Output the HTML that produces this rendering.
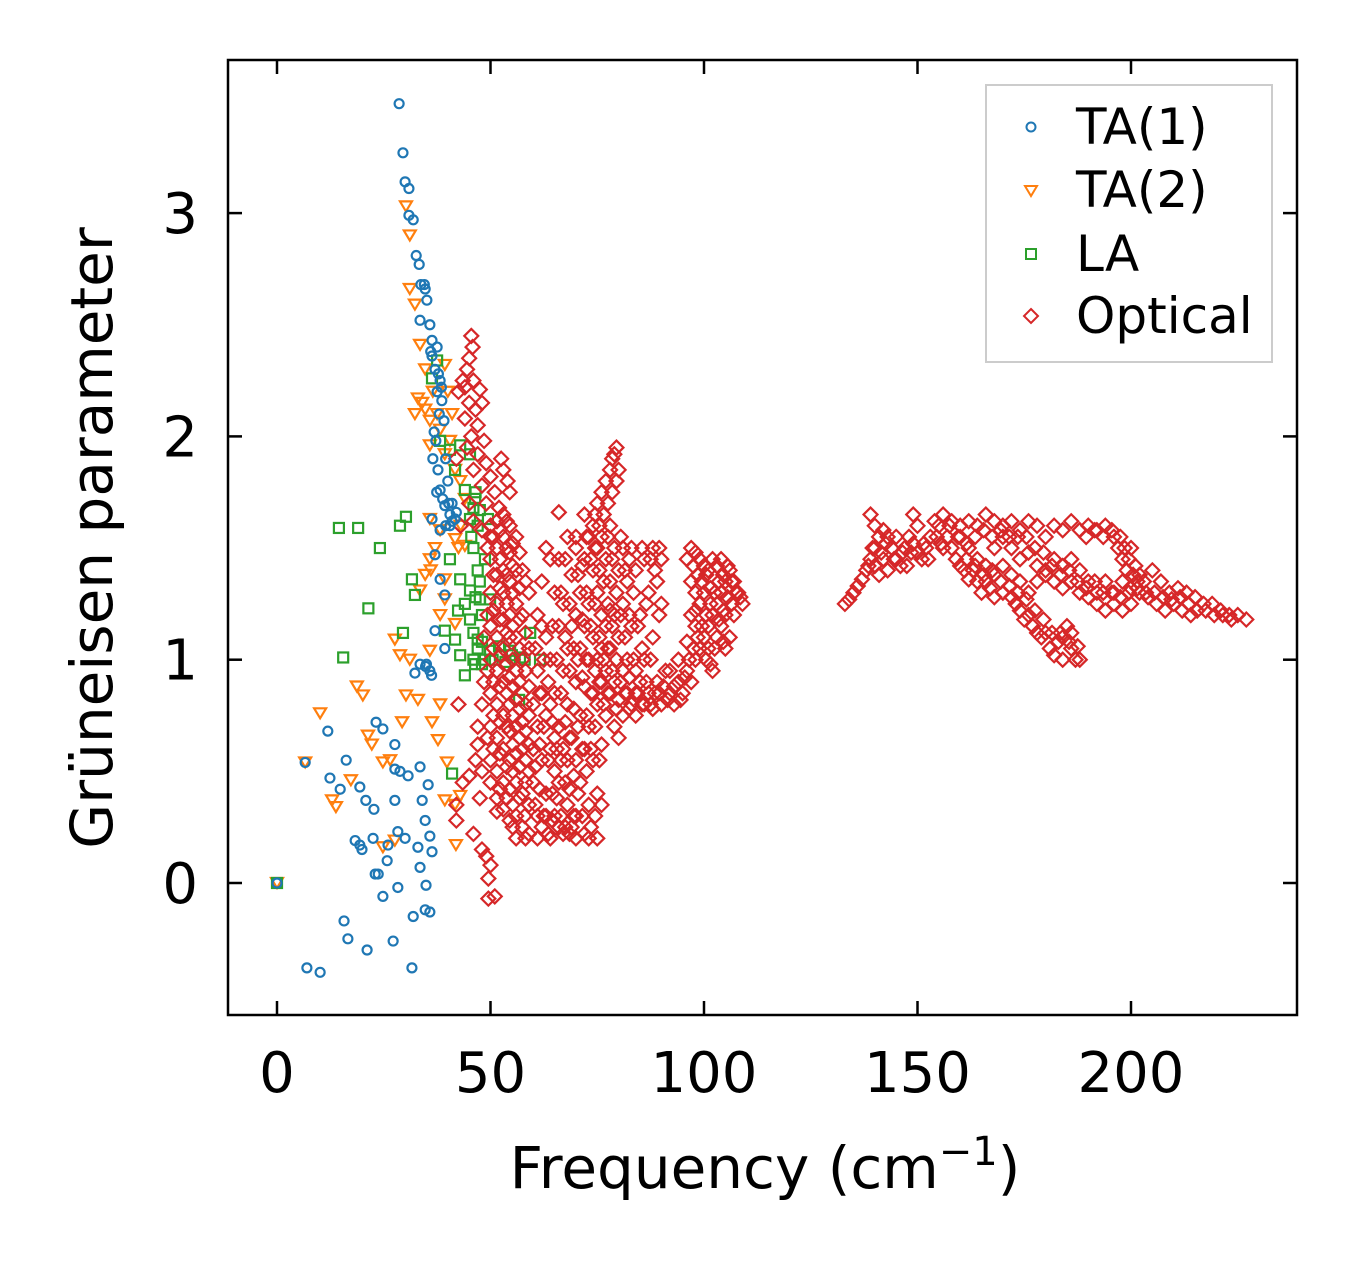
<!DOCTYPE html>
<html><head><meta charset="utf-8"><style>
html,body{margin:0;padding:0;background:#fff;}
svg{display:block;font-family:"DejaVu Sans","Liberation Sans",sans-serif;}
</style></head><body>
<svg id="chart" width="1357" height="1264" viewBox="0 0 1357 1264">
<g id="marks"></g>
<rect x="228" y="60" width="1069" height="955" fill="none" stroke="#000" stroke-width="2.5"/>
<g id="ticks"></g>
<text x="765" y="1188" font-size="58" text-anchor="middle">Frequency (cm<tspan dy="-23" font-size="40">−1</tspan><tspan dy="23">)</tspan></text>
<text transform="translate(112,538) rotate(-90)" font-size="58" text-anchor="middle">Grüneisen parameter</text>
<g>
<rect x="986" y="85" width="286" height="277" fill="#fff" fill-opacity="0.8" stroke="#ccc" stroke-width="2"/>
<circle cx="1031" cy="127" r="4.5" fill="none" stroke="#1f77b4" stroke-width="2"/>
<text x="1076" y="144" font-size="50">TA(1)</text>
<path d="M1025,186 L1037,186 L1031,196 Z" fill="none" stroke="#ff7f0e" stroke-width="2"/>
<text x="1076" y="207" font-size="50">TA(2)</text>
<rect x="1026" y="249" width="10" height="10" fill="none" stroke="#2ca02c" stroke-width="2"/>
<text x="1076" y="271" font-size="50">LA</text>
<path d="M1031,309 L1038,316 L1031,323 L1024,316 Z" fill="none" stroke="#d62728" stroke-width="2"/>
<text x="1076" y="333" font-size="50">Optical</text>
</g>
</svg>
<script>
const xTicks=[0,50,100,150,200];
const yTicks=[0,1,2,3];
const ta1=[[28.6,3.49],[29.5,3.27],[30,3.14],[30.9,3.11],[30.9,2.99],[31.9,2.97],[32.6,2.81],[33.3,2.77],[33.7,2.68],[34.7,2.66],[35.1,2.61],[33.5,2.52],[35.8,2.5],[36.3,2.43],[36.3,2.36],[37,2.3],[38.2,2.25],[38.6,2.16],[39.1,2.07],[37.2,1.98],[37.7,1.85],[38.2,1.76],[39.3,1.69],[40.5,1.65],[41.7,1.63],[38.2,1.58],[36.3,1.63],[37,1.47],[38.2,1.36],[39.3,1.29],[37,1.13],[39.3,1.05],[33.5,0.98],[35.8,0.95],[32.3,0.94],[27.6,0.51],[28.8,0.5],[30.7,0.48],[33.5,0.52],[34,0.37],[35.4,0.44],[34.7,0.28],[35.8,0.21],[36.3,0.14],[33,0.16],[30,0.2],[28.3,0.23],[27.6,0.37],[33.5,0.07],[34.9,-0.01],[34.7,-0.12],[35.8,-0.13],[31.9,-0.15],[31.6,-0.38],[28.3,-0.02],[27.2,-0.26],[26,0.17],[25.8,0.1],[24.8,-0.06],[23.7,0.04],[23,0.04],[22.7,0.33],[23.2,0.72],[24.8,0.69],[20.8,0.37],[19.4,0.43],[18.3,0.19],[19.4,0.17],[19.9,0.15],[16.2,0.55],[14.8,0.42],[12.4,0.47],[11.9,0.68],[15.7,-0.17],[16.6,-0.25],[21.1,-0.3],[7,-0.38],[10.1,-0.4],[6.6,0.54],[0,0],[27.6,0.62],[22.5,0.2],[37.5,2.2],[38,2.1],[39.5,1.9],[40,1.8],[41,1.7],[36.5,1.9],[37.5,2.4],[40.5,1.6],[34.5,2.68],[36,2.38],[37.8,2.28],[38.5,2.22],[36.8,2.02],[37.4,1.75],[38.8,1.72],[40.2,1.7],[42,1.66],[41,1.62],[39.5,1.6],[34.8,0.97],[36.2,0.93],[35,0.98]];
const ta2=[[30.2,3.03],[31.1,2.9],[31.1,2.66],[32.3,2.59],[33.5,2.41],[34.7,2.3],[39.3,2.32],[33,2.17],[34.7,2.12],[35.8,2.07],[32.3,2.1],[38.2,2.03],[40.5,1.98],[35.8,1.96],[39.3,1.92],[41.7,1.85],[42.9,1.8],[44,1.72],[35.8,1.63],[38.2,1.58],[41.7,1.54],[44,1.51],[35.8,1.45],[34.7,1.38],[33.5,1.31],[39.3,1.27],[38.2,1.2],[41.7,1.16],[27.6,1.09],[28.8,1.02],[31.1,1],[35.8,1.04],[18.7,0.88],[20.1,0.84],[30.2,0.84],[33,0.82],[38.2,0.8],[36.3,0.72],[29.3,0.72],[37.7,0.64],[21.3,0.66],[22.2,0.62],[10.1,0.76],[24.8,0.54],[26.5,0.55],[39.8,0.54],[17.3,0.46],[12.9,0.37],[13.8,0.34],[39.3,0.37],[41.7,0.35],[42.9,0.39],[24.8,0.16],[41.9,0.17],[27.6,0.19],[0,0],[6.6,0.54],[39.3,1.36],[34,2.15],[36.5,2.2],[37.5,2.1],[40,2.2],[41,2.1],[43,1.6],[42.5,1.5],[36,1.4],[37,1.5]];
const la=[[14.5,1.59],[19,1.59],[24.1,1.5],[21.4,1.23],[15.5,1.01],[28.8,1.6],[30.2,1.64],[31.6,1.36],[32.3,1.29],[29.5,1.12],[36.3,2.26],[37.5,2.34],[38.2,1.98],[40.5,1.94],[42.9,1.96],[45.2,1.92],[41.7,1.85],[44,1.76],[46.4,1.72],[47.5,1.67],[49.4,1.63],[45.2,1.63],[40.5,1.45],[42.9,1.36],[45.2,1.31],[47.5,1.27],[42.4,1.22],[45.2,1.18],[47,1.09],[49.9,1.04],[52.2,1.02],[54.6,1.04],[56.9,1.01],[59.3,1.12],[61.6,1],[42.9,1.02],[46.4,0.98],[48.7,1],[44,0.93],[56.7,0.82],[41,0.49],[0,0],[39.3,1.13],[41.7,1.09],[49.9,1.27],[48.7,1.45],[46,1.5],[47,1.4],[48,1.2],[46,1.0],[48,0.98],[47,1.05],[46.5,1.75],[46,1.68],[47,1.6],[45.5,1.55],[47.5,1.35],[46.5,1.28],[44,1.25],[46,1.12],[48,1.08],[50.5,1.0],[52,1.06],[53.5,0.99],[55,1.02],[58,1.0]];
const optical=[[45.5,2.45],[45.8,2.4],[45,2.35],[44.5,2.3],[46,2.25],[44,2.22],[47.5,2.21],[45,2.15],[46.5,2.12],[44,2.08],[47,2.05],[45.5,2],[48.5,1.98],[44.5,1.95],[47,1.92],[49,1.88],[46,1.85],[50,1.82],[48,1.78],[51,1.75],[45,1.7],[49,1.7],[52,1.68],[46,1.62],[48,1.58],[50,1.55],[43,1.6],[42,1.9],[42.5,2.2],[43.5,2.25],[48,2.15],[52.5,1.9],[53,1.85],[54,1.8],[54.5,1.75],
[50,1.6],[50,1.45],[50,1.3],[50,1.15],[50,1],[50,0.85],[50,0.7],[50,0.55],[50,0.45],[51.5,1.62],[51.5,1.5],[51.5,1.38],[51.5,1.25],[51.5,1.1],[51.5,0.95],[51.5,0.8],[51.5,0.65],[51.5,0.5],[51.5,0.38],[51.5,0.32],[53,1.65],[53,1.55],[53,1.4],[53,1.3],[53,1.18],[53,1.05],[53,0.9],[53,0.75],[53,0.6],[53,0.45],[53,0.33],[54.5,1.6],[54.5,1.48],[54.5,1.35],[54.5,1.2],[54.5,1.1],[54.5,0.92],[54.5,0.8],[54.5,0.68],[54.5,0.55],[54.5,0.42],[54.5,0.28],[56,1.55],[56,1.4],[56,1.25],[56,1.1],[56,0.95],[56,0.82],[56,0.7],[56,0.58],[56,0.45],[56,0.3],[56,0.2],[57.5,1.4],[57.5,1.2],[57.5,1],[57.5,0.85],[57.5,0.72],[57.5,0.6],[57.5,0.4],[57.5,0.25],[59,1.3],[59,1.05],[59,0.88],[59,0.75],[59,0.62],[59,0.5],[59,0.35],[59,0.22],
[48,0.8],[47,0.62],[46.5,0.55],[45,0.48],[47.5,0.38],[42,0.28],[46,0.22],[48,0.15],[49,0.12],[49.5,0.02],[50,0.08],[49.5,-0.07],[51,-0.06],[47,0.7],[48,0.5],[42,0.35],[43.5,0.45],[42.5,0.8],
[60,0.8],[60,0.6],[60,0.45],[61,1.2],[61,0.95],[61,0.7],[61,0.3],[62,1.35],[62,0.85],[62,0.55],[62,0.25],[63,1.5],[63,1.1],[63,0.75],[63,0.4],[64,1],[64,0.6],[64,0.2],[65,1.3],[65,0.85],[65,0.5],[65,0.3],[66,1.66],[66,1.45],[66,1.15],[66,0.7],[66,0.45],[67,1.25],[67,0.95],[67,0.6],[67,0.22],[68,1.55],[68,1.05],[68,0.8],[68,0.35],[69,1.38],[69,1.15],[69,0.65],[69,0.25],[70,1.5],[70,1.2],[70,0.9],[70,0.55],[70,0.3],[71,1.3],[71,1.05],[71,0.75],[71,0.45],[72,1.45],[72,1.15],[72,0.88],[72,0.6],[72,0.22],[73,1.55],[73,1.25],[73,1],[73,0.7],[73,0.35],[74,1.6],[74,1.4],[74,1.1],[74,0.85],[74,0.55],[75,1.7],[75,1.5],[75,1.3],[75,1],[75,0.8],[75,0.4],[75,0.2],[76,1.75],[76,1.55],[76,1.2],[76,0.9],[76,0.62],[77,1.8],[77,1.45],[77,1.15],[77,0.95],[77,0.75],[78,1.85],[78,1.6],[78,1.35],[78,1.05],[78,0.85],[79,1.92],[79,1.5],[79,1.2],[79,0.9],[79,0.7],[79.5,1.95],[80,1.85],[80,1.4],[80,1.1],[80,0.82],[81,1.5],[81,1.25],[81,0.95],[81,0.75],[82,1.35],[82,1],[82,0.85],[83,1.5],[83,1.15],[83,0.8],[84,1.4],[84,0.95],[84,0.75],[85,1.2],[85,0.9],[86,1.45],[86,1],[86,0.8],[87,1.3],[87,0.85],[88,1.5],[88,1.1],[88,0.78],[89,1.35],[89,0.9],[90,1.45],[90,1.25],[90,0.8],[91,0.95],[92,0.85],[93,0.8],[94,0.9],[95,0.85],[96,0.95],[97,0.9],[98,1],[99,1.05],[100,1.1],[101,1.15],[101,1.05],[102,1.2],[102,0.95],[103,1.25],[103,1.1],[104,1.3],[104,1.15],[105,1.35],[105,1.2],[105,1.05],[104,1.45],[103,1.42],[102,1.45],[101,1.4],[100,1.42],[99,1.45],[98,1.48],[97,1.5],[97,1.35],[98,1.3],[99,1.25],[100,1.3],[106,1.4],[107,1.35],[108,1.3],[109,1.25],[106,1.1],[107,1.2],[92,0.95],[94,1],[96,1.08],[98,1.15],[64,0.8],[63,0.3],[66,0.25],[70,0.2],[73,0.2],[76,0.35],[61,0.2],[58,0.3],[84,0.85],[80,0.65],[65,0.65],[68,0.55],[62,1.15],[64,1.45],[70,1.55],[72,1.65],[76,1.05],[78,1.22],
[133,1.25],[134,1.27],[135,1.3],[136,1.33],[137,1.36],[138,1.4],[139,1.45],[140,1.42],[140,1.5],[141,1.38],[142,1.45],[143,1.4],[144,1.5],[145,1.45],[146,1.42],[139,1.65],[140,1.6],[141,1.55],[142,1.58],[143,1.55],[145,1.55],[147,1.5],[149,1.52],[150,1.48],[149,1.65],[150,1.6],[151,1.45],[153,1.55],[155,1.6],[156,1.65],[157,1.55],[158,1.5],[159,1.45],[160,1.42],[161,1.4],[162,1.36],[163,1.4],[164,1.35],[165,1.3],[166,1.35],[167,1.32],[168,1.28],[170,1.3],[172,1.28],[173,1.25],[174,1.22],[175,1.18],[176,1.2],[177,1.15],[178,1.12],[179,1.1],[180,1.12],[181,1.05],[182,1.02],[183,1.08],[184,1.1],[185,1.15],[186,1.12],[187,1],[188,1],[158,1.62],[160,1.6],[162,1.62],[164,1.6],[166,1.65],[168,1.62],[170,1.6],[172,1.62],[174,1.58],[176,1.62],[178,1.6],[180,1.55],[182,1.6],[184,1.58],[186,1.62],[188,1.58],[190,1.6],[192,1.58],[194,1.6],[196,1.55],[197,1.5],[198,1.45],[199,1.4],[200,1.5],[201,1.42],[202,1.38],[203,1.35],[205,1.4],[207,1.35],[209,1.3],[211,1.32],[213,1.3],[215,1.28],[217,1.25],[219,1.25],[221,1.22],[223,1.2],[225,1.2],[227,1.18],
[168,1.5],[170,1.55],[172,1.5],[174,1.45],[176,1.48],[178,1.42],[180,1.38],[182,1.35],[184,1.32],[186,1.35],[188,1.3],[190,1.28],[192,1.25],[194,1.22],[196,1.25],[198,1.22],[200,1.25],[202,1.3],[204,1.28],[206,1.25],[208,1.22],[210,1.25],[212,1.22],[214,1.2],[190,1.35],[188,1.4],[186,1.45],[184,1.42],[182,1.45],[180,1.4],[178,1.35],[176,1.3],[174,1.35],[172,1.38],[170,1.42],[168,1.38],[166,1.42],[164,1.45],[162,1.5],[160,1.55],[200,1.32],[198,1.35],[196,1.3],[194,1.35],[192,1.3],[154,1.62],[152,1.5],[148,1.55],[156,1.5],[184,1],[186,1.05]];
const opticalExtra=[[50.7,1.55],[50.7,1.38],[50.7,1.22],[50.7,1.05],[50.7,0.9],[50.7,0.75],[50.7,0.6],[52.2,1.58],[52.2,1.45],[52.2,1.32],[52.2,1.18],[52.2,1.02],[52.2,0.88],[52.2,0.72],[52.2,0.58],[52.2,0.42],[53.8,1.62],[53.8,1.5],[53.8,1.38],[53.8,1.25],[53.8,1.12],[53.8,0.98],[53.8,0.85],[53.8,0.7],[53.8,0.52],[53.8,0.38],[55.2,1.52],[55.2,1.42],[55.2,1.3],[55.2,1.15],[55.2,1.0],[55.2,0.88],[55.2,0.75],[55.2,0.62],[55.2,0.5],[55.2,0.35],[55.2,0.25],[56.8,1.48],[56.8,1.32],[56.8,1.18],[56.8,1.05],[56.8,0.9],[56.8,0.78],[56.8,0.65],[56.8,0.52],[56.8,0.38],[58.2,1.35],[58.2,1.12],[58.2,0.95],[58.2,0.8],[58.2,0.68],[58.2,0.55],[58.2,0.45],[58.2,0.2],[49.3,1.5],[49.3,1.2],[49.3,0.95],[49.3,0.65],[48.5,1.1],[48.5,0.9],
[60.5,1.05],[60.5,0.52],[60.5,0.35],[61.5,0.85],[61.5,0.62],[61.5,0.42],[62.5,1.0],[62.5,0.7],[62.5,0.3],[63.5,0.9],[63.5,0.55],[63.5,0.22],[64.5,1.15],[64.5,0.72],[64.5,0.4],[64.5,0.28],[65.5,1.0],[65.5,0.6],[65.5,0.38],[66.5,1.3],[66.5,0.85],[66.5,0.55],[66.5,0.3],[67.5,1.45],[67.5,1.1],[67.5,0.72],[67.5,0.45],[67.5,0.25],[68.5,1.25],[68.5,0.95],[68.5,0.65],[68.5,0.42],[68.5,0.22],[69.5,1.05],[69.5,0.78],[69.5,0.48],[69.5,0.3],[70.5,1.38],[70.5,1.0],[70.5,0.7],[70.5,0.4],[71.5,1.42],[71.5,1.18],[71.5,0.92],[71.5,0.6],[71.5,0.3],[72.5,1.55],[72.5,1.3],[72.5,1.0],[72.5,0.75],[72.5,0.5],[73.5,1.45],[73.5,1.15],[73.5,0.85],[73.5,0.6],[73.5,0.25],[74.5,1.65],[74.5,1.5],[74.5,1.25],[74.5,0.95],[74.5,0.7],[74.5,0.3],[75.5,1.6],[75.5,1.4],[75.5,1.1],[75.5,0.9],[75.5,0.55],[76.5,1.65],[76.5,1.35],[76.5,1.0],[76.5,0.8],[77.5,1.7],[77.5,1.55],[77.5,1.25],[77.5,1.05],[77.5,0.85],[78.5,1.9],[78.5,1.75],[78.5,1.45],[78.5,1.15],[78.5,0.95],[79.5,1.8],[79.5,1.3],[79.5,1.0],[79.5,0.78],[80.5,1.55],[80.5,1.2],[80.5,0.9],[81.5,1.4],[81.5,1.1],[81.5,0.85],[82.5,1.45],[82.5,1.2],[82.5,0.92],[82.5,0.78],[83.5,1.3],[83.5,1.0],[84.5,1.15],[84.5,0.85],[85.5,1.5],[85.5,1.05],[85.5,0.8],[86.5,1.25],[86.5,0.9],[87.5,1.45],[87.5,1.0],[87.5,0.8],[88.5,1.4],[88.5,0.85],[89.5,1.5],[89.5,1.2],[89.5,0.85],[90.5,0.88],[91.5,0.82],[93,0.88],[94.5,0.82],[95.5,0.92],[96.5,1.0],[97.5,1.05],[98.5,1.1],[99.5,1.15],[100.5,1.2],[100.5,1.0],[101.5,1.25],[101.5,0.98],[102.5,1.3],[102.5,1.05],[103.5,1.35],[103.5,1.18],[104.5,1.38],[104.5,1.22],[104.5,1.08],[105.5,1.42],[105.5,1.28],[106.5,1.35],[106.5,1.25],[107.5,1.3],[108.5,1.28],[97.5,1.42],[98.5,1.38],[99.5,1.35],[100.5,1.38],[101.5,1.32],[96,1.45],[97,1.2],[98,1.22],
[138.5,1.42],[139.5,1.5],[141.5,1.48],[142.5,1.52],[144.5,1.45],[146.5,1.48],[147.5,1.42],[148.5,1.48],[151.5,1.52],[152.5,1.45],[154.5,1.55],[155.5,1.52],[157.5,1.6],[159.5,1.55],[161.5,1.52],[163.5,1.55],[165.5,1.58],[167.5,1.55],[169.5,1.58],[171.5,1.55],[173.5,1.55],[175.5,1.55],[177.5,1.5],[179.5,1.48],[181.5,1.42],[183.5,1.38],[185.5,1.4],[187.5,1.35],[189.5,1.32],[191.5,1.35],[193.5,1.3],[195.5,1.3],[197.5,1.28],[199.5,1.3],[201.5,1.32],[203.5,1.3],[205.5,1.3],[207.5,1.28],[209.5,1.27],[211.5,1.28],[213.5,1.25],[215.5,1.22],[217.5,1.22],[219.5,1.2],[221.5,1.2],[223.5,1.18],[161.5,1.45],[163.5,1.42],[165.5,1.38],[167.5,1.4],[169.5,1.35],[171.5,1.33],[173.5,1.3],[175.5,1.27],[177.5,1.22],[179.5,1.18],[181.5,1.12],[183.5,1.12],[185.5,1.08],[187.5,1.06],[189.5,1.55],[191.5,1.58],[193.5,1.55],[195.5,1.58],[197.5,1.55],[198.5,1.5],[199.5,1.45],[200.5,1.38],[201.5,1.35]];

const NS='http://www.w3.org/2000/svg';
function sx(v){return 277+v*4.27;}
function sy(v){return 883-v*223.3;}
const marks=document.getElementById('marks');
const ticks=document.getElementById('ticks');
function mk(tag,attrs){const e=document.createElementNS(NS,tag);for(const k in attrs)e.setAttribute(k,attrs[k]);return e;}

function drawSeries(data,kind,color,name){
  const g=mk('g',{});
  
  
  data.forEach(function(p){
    const x=sx(p[0]),y=sy(p[1]);let e;
    if(kind==='circle'){e=mk('circle',{cx:x,cy:y,r:4.5});}
    else if(kind==='tri'){e=mk('path',{d:'M'+(x-6)+','+(y-5)+' L'+(x+6)+','+(y-5)+' L'+x+','+(y+5)+' Z'});}
    else if(kind==='square'){e=mk('rect',{x:x-5,y:y-5,width:10,height:10});}
    else {e=mk('path',{d:'M'+x+','+(y-7)+' L'+(x+7)+','+y+' L'+x+','+(y+7)+' L'+(x-7)+','+y+' Z'});}
    e.setAttribute('fill','none');e.setAttribute('stroke',color);e.setAttribute('stroke-width','2.2');
    
    
    g.appendChild(e);
  });
  marks.appendChild(g);
}
drawSeries(ta2,'tri','#ff7f0e','ta2');
drawSeries(la,'square','#2ca02c','la');
drawSeries(optical,'diamond','#d62728','optical');
drawSeries(opticalExtra,'diamond','#d62728','optical-dense');
drawSeries(ta1,'circle','#1f77b4','ta1');

xTicks.forEach(function(v){
  const x=sx(v);
  const t1=mk('line',{x1:x,x2:x,y1:1015,y2:1001,stroke:'#000','stroke-width':2.5});
  
  
  ticks.appendChild(t1);
  const t2=mk('line',{x1:x,x2:x,y1:60,y2:74,stroke:'#000','stroke-width':2.5});
  
  
  ticks.appendChild(t2);
  const l=mk('text',{x:x,y:1092,'font-size':56,'text-anchor':'middle'});
  l.textContent=v;
  
  
  ticks.appendChild(l);
});
yTicks.forEach(function(v){
  const y=sy(v);
  const t1=mk('line',{x1:228,x2:242,y1:y,y2:y,stroke:'#000','stroke-width':2.5});
  
  
  ticks.appendChild(t1);
  const t2=mk('line',{x1:1283,x2:1297,y1:y,y2:y,stroke:'#000','stroke-width':2.5});
  
  
  ticks.appendChild(t2);
  const l=mk('text',{x:198,y:y+20,'font-size':56,'text-anchor':'end'});
  l.textContent=v;
  
  
  ticks.appendChild(l);
});
</script>
</body></html>
